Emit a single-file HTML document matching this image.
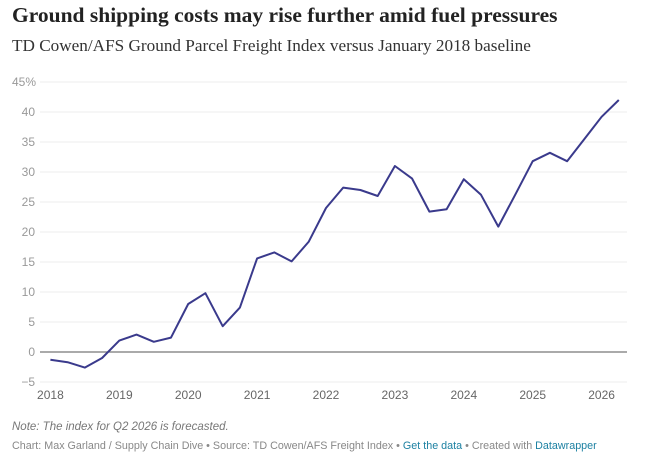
<!DOCTYPE html>
<html><head><meta charset="utf-8"><style>
body{margin:0;background:#fff;width:646px;height:459px;overflow:hidden;font-family:"Liberation Sans",sans-serif}
#title{position:absolute;left:12px;top:3px;font-family:"Liberation Serif",serif;font-weight:bold;font-size:21.5px;color:#222}
#sub{position:absolute;left:12px;top:36px;font-family:"Liberation Serif",serif;font-size:17.2px;color:#333}
#note{position:absolute;left:12px;top:421px;font-size:11.5px;font-style:italic;color:#777}
#src{position:absolute;left:12px;top:440px;font-size:10.75px;color:#888}
#src a{color:#1d81a2;text-decoration:none}
svg{position:absolute;left:0;top:0}
</style></head><body>
<div id="title">Ground shipping costs may rise further amid fuel pressures</div>
<div id="sub">TD Cowen/AFS Ground Parcel Freight Index versus January 2018 baseline</div>
<svg id="chart" width="646" height="459"></svg>
<div id="note">Note: The index for Q2 2026 is forecasted.</div>
<div id="src">Chart: Max Garland / Supply Chain Dive • Source: TD Cowen/AFS Freight Index • <a>Get the data</a> • Created with <a>Datawrapper</a></div>
<script>
const values=[-1.3,-1.7,-2.6,-1.0,1.9,2.9,1.7,2.4,8.0,9.8,4.3,7.4,15.6,16.6,15.1,18.4,24.0,27.4,27.0,26.0,31.0,28.9,23.4,23.8,28.8,26.2,20.9,26.3,31.8,33.2,31.8,35.5,39.2,42.0];
const yTicks=[-5,0,5,10,15,20,25,30,35,40,45];
const yLabels=["−5","0","5","10","15","20","25","30","35","40","45%"];
const xYears=[2018,2019,2020,2021,2022,2023,2024,2025,2026];
const NS="http://www.w3.org/2000/svg";
const svg=document.getElementById('chart');
const y=v=>352-v*6.0;
const x=t=>50.4+(t-2018)*68.9;
function mk(tag,attrs){const e=document.createElementNS(NS,tag);for(const k in attrs)e.setAttribute(k,attrs[k]);svg.appendChild(e);return e;}
yTicks.forEach((t,i)=>{
 if(t!==0){const g=mk('line',{x1:40,x2:627,y1:y(t),y2:y(t),stroke:'#ececec','stroke-width':1});
 
 }
 const tx=mk('text',{x:i==yTicks.length-1?12:35,y:y(t)+4,'font-size':12,fill:'#999','font-family':'Liberation Sans, sans-serif','text-anchor':i==yTicks.length-1?'start':'end'});
 tx.textContent=yLabels[i];
 
 
});
const z=mk('line',{x1:40,x2:627,y1:y(0),y2:y(0),stroke:'#777','stroke-width':1.3});


xYears.forEach(yr=>{
 const t=mk('text',{x:x(yr),y:399,'font-size':12,fill:'#666','text-anchor':'middle','font-family':'Liberation Sans, sans-serif'});
 t.textContent=yr;
 
 
});
const pts=values.map((v,i)=>x(2018+i/4).toFixed(1)+','+y(v).toFixed(1)).join(' ');
const pl=mk('polyline',{points:pts,fill:'none',stroke:'#3a3a8c','stroke-width':2,'stroke-linejoin':'round'});


</script>
</body></html>
